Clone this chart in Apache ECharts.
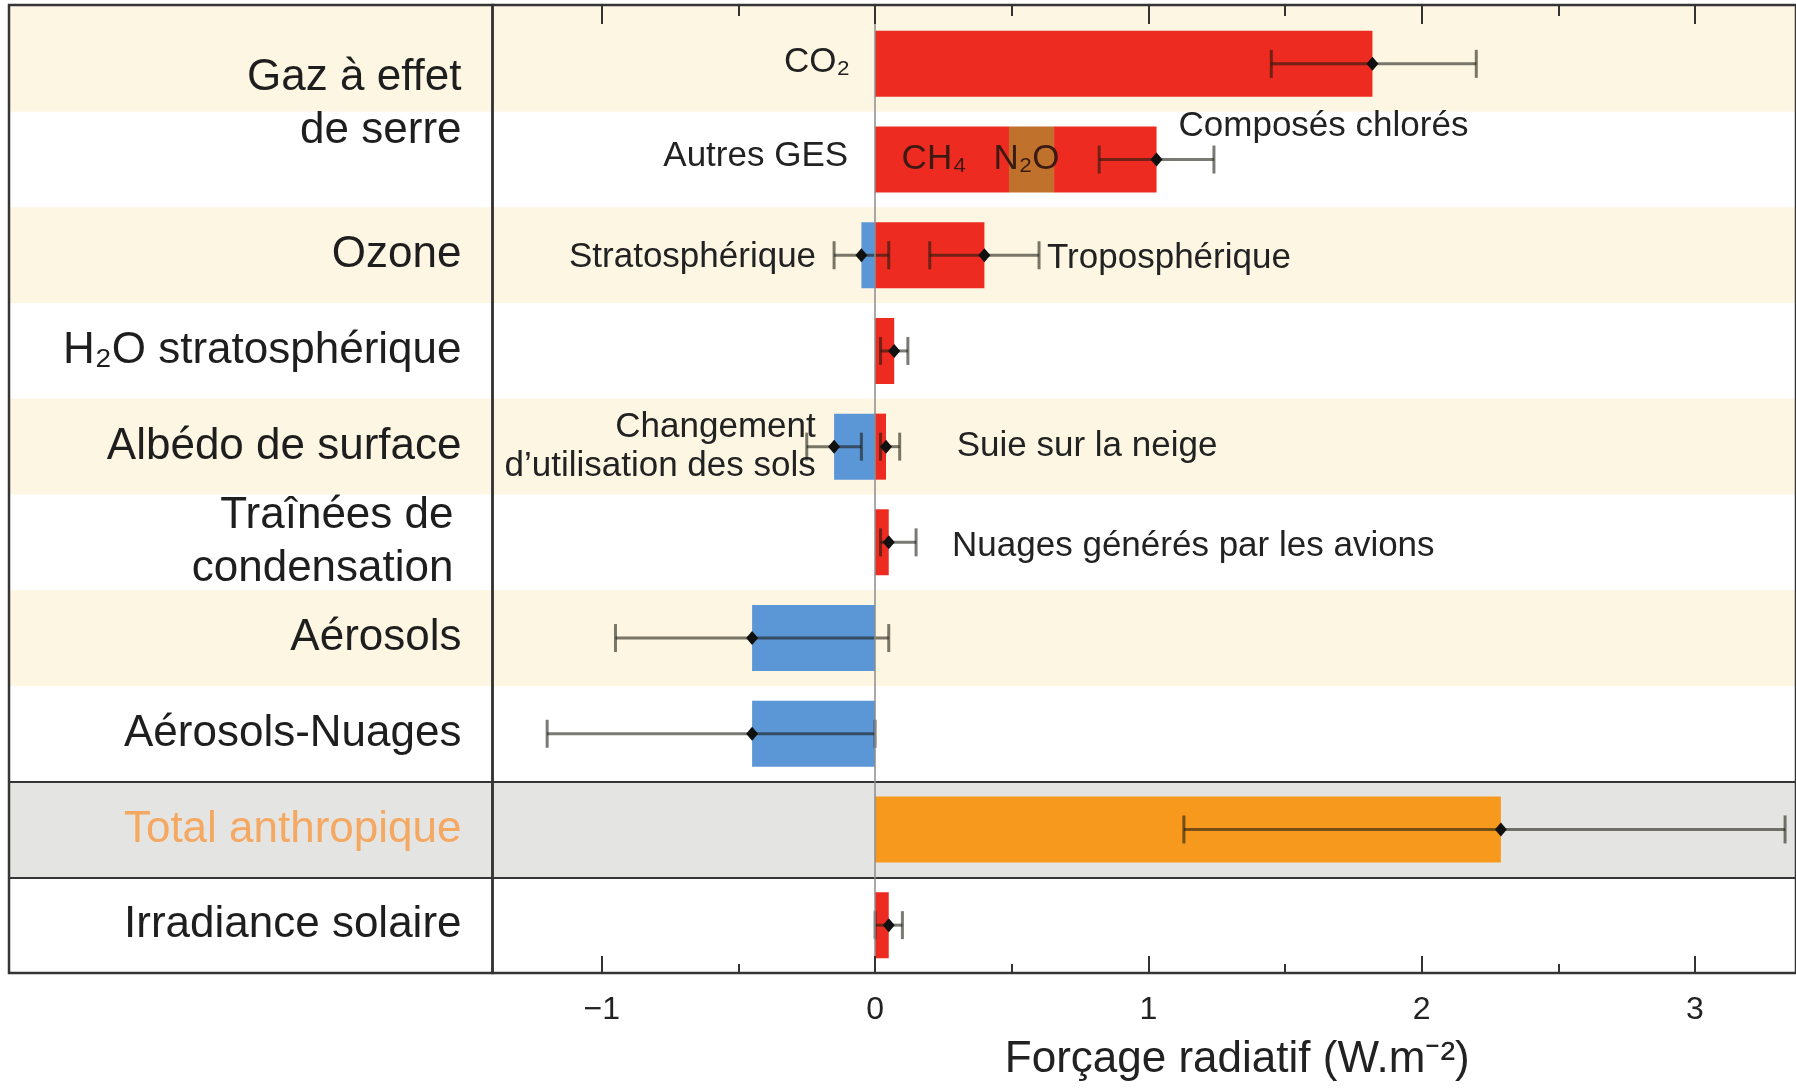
<!DOCTYPE html>
<html>
<head>
<meta charset="utf-8">
<title>Forçage radiatif</title>
<script src="https://cdn.jsdelivr.net/npm/echarts@6/dist/echarts.min.js"></script>
<style>
html, body { margin: 0; padding: 0; background: #fff; }
#chart { width: 1796px; height: 1088px; }
</style>
</head>
<body>
<div id="chart"></div>
<script>
// lignes du graphique, de haut en bas
var rowLabels = ['Gaz à effet\nde serre', '', 'Ozone', 'H₂O stratosphérique', 'Albédo de surface',
  'Traînées de\ncondensation', 'Aérosols', 'Aérosols-Nuages', 'Total anthropique', 'Irradiance solaire'];

// barres (W.m-2)
var rouge   = [1.82, 0.49, 0.40, 0.07, 0.04, 0.05, '-', '-', '-', 0.05];
var rougeTxt = ['', 'CH₄', '', '', '', '', '', '', '', ''];
var n2o     = ['-', 0.165, '-', '-', '-', '-', '-', '-', '-', '-'];
var chlores = ['-', 0.375, '-', '-', '-', '-', '-', '-', '-', '-'];
var bleu    = ['-', '-', -0.05, '-', -0.15, '-', -0.45, -0.45, '-', '-'];
var total   = ['-', '-', '-', '-', '-', '-', '-', '-', 2.29, '-'];

// barres d'erreur : ligne, valeur centrale, min, max
var errRow  = [0, 1, 2, 2, 3, 4, 4, 5, 6, 7, 8, 9];
var errMid  = [1.82, 1.03, -0.05, 0.40, 0.07, -0.15, 0.04, 0.05, -0.45, -0.45, 2.29, 0.05];
var errLow  = [1.45, 0.82, -0.15, 0.20, 0.02, -0.25, 0.02, 0.02, -0.95, -1.20, 1.13, 0.00];
var errHigh = [2.20, 1.24, 0.05, 0.60, 0.12, -0.05, 0.09, 0.15, 0.05, 0.00, 3.33, 0.10];

// annotations : texte + barre d'erreur de rattachement
var noteTexts = ['CO₂', 'Autres GES', 'Composés chlorés', 'Stratosphérique', 'Troposphérique',
  'Changement\nd’utilisation des sols', 'Suie sur la neige', 'Nuages générés par les avions'];
var noteAnchors = [['zero', 0], ['zero', 1], ['mid', 1], ['low', 2], ['high', 3], ['low', 5], ['high', 6], ['high', 7]];

// axe x
var xMin = -1.4, xMax = 3.37;
var tickMajor = [-1, 0, 1, 2, 3];
var tickMinor = [-0.5, 0.5, 1.5, 2.5];

// mise en forme des annotations : dx, dy, alignement
var noteLayout = [[-25, -2, 'right'], [-27, -3, 'right'], [22, -33, 'left'], [-18, 2, 'right'],
  [8, 3, 'left'], [9, 0, 'right'], [57, 0, 'left'], [36, 4, 'left']];

var FONT = "'Liberation Sans', Arial, Helvetica, sans-serif";
var TAN = '#fdf6e3', GRAY = '#e4e4e3';
var bandColors = [TAN, '#fff', TAN, '#fff', TAN, '#fff', TAN, '#fff', GRAY, '#fff'];
var totalIdx = rowLabels.indexOf('Total anthropique');

var notesData = noteAnchors.map(function (a) {
  var k = a[1];
  var x = a[0] === 'zero' ? 0 : a[0] === 'low' ? errLow[k] : a[0] === 'high' ? errHigh[k] : errMid[k];
  return [x, errRow[k]];
});

function lines(v, tag) {
  return v.split('\n').map(function (s) { return '{' + tag + '|' + s + '}'; }).join('\n');
}

var hiddenX = function (g) { return { gridIndex: g, type: 'value', show: false, min: xMin, max: xMax, axisLine: { onZero: false } }; };
var hiddenY = function (g) { return { gridIndex: g, type: 'value', show: false, axisLine: { onZero: false } }; };

function tickAxis(pos, values, len, labels) {
  return {
    gridIndex: 4, type: 'value', position: pos, min: xMin, max: xMax, z: 5,
    axisLine: { show: false, onZero: false },
    splitLine: { show: false },
    axisTick: { show: true, inside: true, length: len, customValues: values, lineStyle: { color: '#333', width: 2 } },
    axisLabel: labels ? {
      show: true, customValues: tickMajor, margin: 21, fontSize: 32, fontFamily: FONT, color: '#222',
      formatter: function (v) { return v < 0 ? '−' + (-v) : String(v); }
    } : { show: false }
  };
}

var option = {
  animation: false,
  backgroundColor: '#fff',
  grid: [
    { left: 9, width: 483.5, top: 16, bottom: 115 },                 // 0 colonne des libellés
    { left: 492.5, right: 0, top: 16, bottom: 115 },                 // 1 données
    { left: 9, right: 0, top: 5, bottom: 115, show: true, backgroundColor: TAN, borderWidth: 0, z: 0 },
    { left: 9, width: 483.5, top: 5, bottom: 115, show: true, backgroundColor: 'transparent', borderColor: '#353535', borderWidth: 2.5, z: 5 },
    { left: 492.5, right: -4, top: 5, bottom: 115, show: true, backgroundColor: 'transparent', borderColor: '#353535', borderWidth: 2.5, z: 5 }
  ],
  xAxis: [
    hiddenX(0), hiddenX(1), hiddenX(2), hiddenX(3),
    (function () {
      var a = tickAxis('bottom', tickMajor, 17, true);
      a.name = 'Forçage radiatif (W.m⁻²)';
      a.nameLocation = 'middle';
      a.nameGap = 65;
      a.nameTextStyle = { fontSize: 44, fontFamily: FONT, color: '#222', padding: [0, 0, 0, 186] };
      return a;
    })(),
    tickAxis('bottom', tickMinor, 9, false),
    tickAxis('top', tickMajor, 19, false),
    tickAxis('top', tickMinor, 11, false)
  ],
  yAxis: [
    {
      gridIndex: 0, type: 'category', data: rowLabels, inverse: true, z: 1,
      axisLine: { show: false, onZero: false }, axisTick: { show: false }, axisLabel: { show: false },
      splitArea: { show: true, interval: 0, areaStyle: { color: bandColors } },
      splitLine: { show: true, interval: function (i) { return i === totalIdx || i === totalIdx + 1; }, lineStyle: { color: '#353535', width: 2 } }
    },
    {
      gridIndex: 1, type: 'category', data: rowLabels, inverse: true, z: 1.5,
      axisLine: { show: false, onZero: false }, axisTick: { show: false },
      splitArea: { show: true, interval: 0, areaStyle: { color: bandColors } },
      splitLine: { show: true, interval: function (i) { return i === totalIdx || i === totalIdx + 1; }, lineStyle: { color: '#353535', width: 2 } },
      axisLabel: {
        show: true, interval: 0, margin: 31, fontSize: 44, fontFamily: FONT, color: '#1e1e1e', align: 'right',
        formatter: function (v, i) {
          if (i === 0) return '{sp| }\n' + lines(v, 'g');
          if (i === totalIdx) return lines(v, 't');
          if (v.indexOf('\n') >= 0) return lines(v, 'c');
          return lines(v, 'g');
        },
        rich: {
          g: { fontSize: 44, lineHeight: 53, fontFamily: FONT, color: '#1e1e1e' },
          c: { fontSize: 44, lineHeight: 53, fontFamily: FONT, color: '#1e1e1e', padding: [0, 8, 0, 0] },
          t: { fontSize: 44, lineHeight: 53, fontFamily: FONT, color: '#f5a862' },
          sp: { fontSize: 10, lineHeight: 82 }
        }
      }
    },
    hiddenY(2), hiddenY(3),
    {
      // ligne du zéro
      gridIndex: 4, type: 'value', min: 0, max: 1, z: 4,
      axisLine: { show: true, onZero: true, lineStyle: { color: '#8c8c8c', width: 1.5 } },
      axisTick: { show: false }, axisLabel: { show: false }, splitLine: { show: false }
    }
  ],
  series: [
    {
      name: 'réchauffant', type: 'bar', xAxisIndex: 1, yAxisIndex: 1, stack: 'f', barCategoryGap: '31%',
      data: rouge, itemStyle: { color: '#ee2b21' }, silent: true,
      label: {
        show: true, position: 'inside', offset: [-8, 0], fontSize: 35, fontFamily: FONT, color: '#3a1a12',
        formatter: function (p) { return rougeTxt[p.dataIndex]; }
      }
    },
    {
      name: 'N₂O', type: 'bar', xAxisIndex: 1, yAxisIndex: 1, stack: 'f', barCategoryGap: '31%',
      data: n2o, itemStyle: { color: '#c0712c' }, silent: true,
      label: { show: true, position: 'inside', offset: [-5, 0], fontSize: 35, fontFamily: FONT, color: '#3a1a12', formatter: 'N₂O' }
    },
    {
      name: 'Composés chlorés', type: 'bar', xAxisIndex: 1, yAxisIndex: 1, stack: 'f', barCategoryGap: '31%',
      data: chlores, itemStyle: { color: '#ee2b21' }, silent: true
    },
    {
      name: 'refroidissant', type: 'bar', xAxisIndex: 1, yAxisIndex: 1, stack: 'f', barCategoryGap: '31%',
      data: bleu, itemStyle: { color: '#5b96d6' }, silent: true
    },
    {
      name: 'Total', type: 'bar', xAxisIndex: 1, yAxisIndex: 1, stack: 'f', barCategoryGap: '31%',
      data: total, itemStyle: { color: '#f7991c' }, silent: true
    },
    {
      name: 'incertitude', type: 'custom', xAxisIndex: 1, yAxisIndex: 1, z: 3, silent: true, clip: false,
      data: errRow.map(function (r, i) { return [errMid[i], r, errLow[i], errHigh[i]]; }),
      encode: { x: [0, 2, 3], y: 1 },
      renderItem: function (params, api) {
        var r = api.value(1);
        var pm = api.coord([api.value(0), r]);
        var pl = api.coord([api.value(2), r]);
        var ph = api.coord([api.value(3), r]);
        var st = { stroke: 'rgba(25,25,15,0.58)', lineWidth: 3 };
        var cap = 14;
        return {
          type: 'group',
          children: [
            { type: 'line', shape: { x1: pl[0], y1: pl[1], x2: ph[0], y2: ph[1] }, style: st },
            { type: 'line', shape: { x1: pl[0], y1: pl[1] - cap, x2: pl[0], y2: pl[1] + cap }, style: st },
            { type: 'line', shape: { x1: ph[0], y1: ph[1] - cap, x2: ph[0], y2: ph[1] + cap }, style: st },
            { type: 'polygon', shape: { points: [[pm[0], pm[1] - 7], [pm[0] + 6, pm[1]], [pm[0], pm[1] + 7], [pm[0] - 6, pm[1]]] }, style: { fill: '#111' } }
          ]
        };
      }
    },
    {
      name: 'annotations', type: 'custom', xAxisIndex: 1, yAxisIndex: 1, z: 4, silent: true, clip: false,
      data: notesData,
      encode: { x: 0, y: 1 },
      renderItem: function (params, api) {
        var p = api.coord([api.value(0), api.value(1)]);
        var l = noteLayout[params.dataIndex];
        return {
          type: 'text', x: p[0] + l[0], y: p[1] + l[1],
          style: {
            text: noteTexts[params.dataIndex], fill: '#222', fontSize: 35, fontFamily: FONT,
            align: l[2], verticalAlign: 'middle', lineHeight: 39
          }
        };
      }
    }
  ]
};

var chart = echarts.init(document.getElementById('chart'), null, { renderer: 'canvas' });
chart.setOption(option);
</script>
</body>
</html>
